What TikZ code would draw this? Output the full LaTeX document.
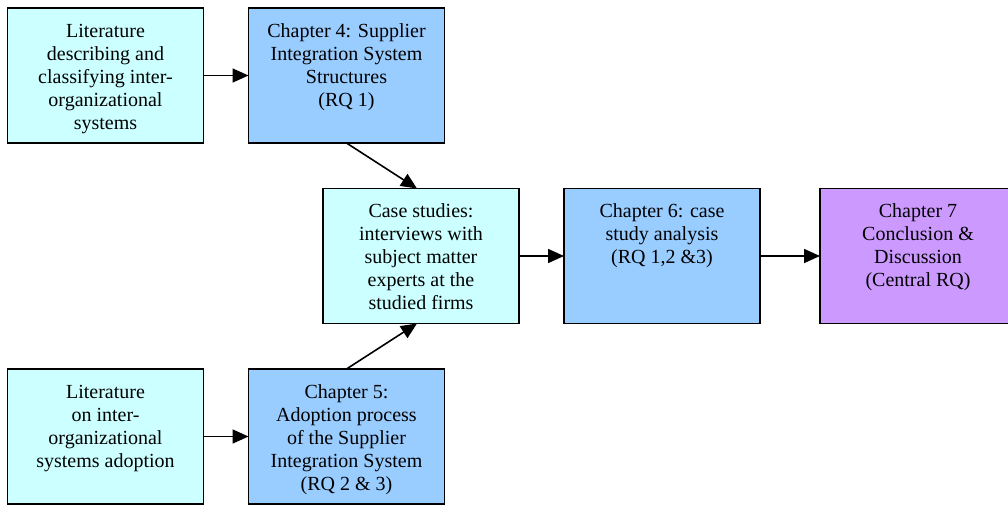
\documentclass[tikz,border=0pt]{standalone}
\usepackage{fontspec}
\setmainfont{Liberation Serif}
\usetikzlibrary{arrows.meta}

\definecolor{litcyan}{HTML}{CCFFFF}
\definecolor{chapblue}{HTML}{99CCFF}
\definecolor{chappurple}{HTML}{CC99FF}

\tikzset{
  box/.style={draw=black, line width=1.8pt, minimum width=196pt, minimum height=135pt,
              inner sep=0pt, outer sep=0pt},
  litbox/.style={box, fill=litcyan},
  chapbox/.style={box, fill=chapblue},
  finalbox/.style={box, fill=chappurple},
  boxtext/.style={anchor=north, align=center, inner sep=0pt,
                  font=\fontsize{20}{23}\selectfont},
  flow/.style={line width=1.6pt, -{Triangle[length=16pt,width=14pt]}},
}

\newcommand{\boxlabel}[2]{\node[boxtext] at ([yshift=-12.9pt]#1.north) {\strut #2};}

\begin{document}
\begin{tikzpicture}[x=1pt, y=-1pt]
  \useasboundingbox (0,0) rectangle (1008,506);
  \clip (0,0) rectangle (1008,506);

  % boxes
  \node[litbox]   (litA)  at (105.5, 75.5) {};
  \node[chapbox]  (chA)   at (346.5, 75.5) {};
  \node[litbox]   (cases) at (421, 256) {};
  \node[chapbox]  (chB)   at (662, 256) {};
  \node[finalbox] (chC)   at (918, 256) {};
  \node[litbox]   (litB)  at (105.5, 436.5) {};
  \node[chapbox]  (chD)   at (346.5, 436.5) {};

  % box texts
  \boxlabel{litA}{Literature\\describing and\\classifying inter-\\organizational\\systems}
  \boxlabel{chA}{Chapter 4: Supplier\\Integration System\\Structures\\(RQ 1)}
  \boxlabel{cases}{Case studies:\\interviews with\\subject matter\\experts at the\\studied firms}
  \boxlabel{chB}{Chapter 6: case\\study analysis\\(RQ 1,2 \&3)}
  \boxlabel{chC}{Chapter 7\\Conclusion \&\\Discussion\\(Central RQ)}
  \boxlabel{litB}{Literature\\on inter-\\organizational\\systems adoption}
  \boxlabel{chD}{Chapter 5:\\Adoption process\\of the Supplier\\Integration System\\(RQ 2 \& 3)}

  % connectors
  \draw[flow] (litA.east) -- (chA.west);
  \draw[flow] (litB.east) -- (chD.west);
  \draw[flow] (chA.south) -- ([xshift=-4pt]cases.north);
  \draw[flow] (chD.north) -- ([xshift=-4pt]cases.south);
  \draw[flow] (cases.east) -- (chB.west);
  \draw[flow] (chB.east) -- (chC.west);
\end{tikzpicture}
\end{document}
